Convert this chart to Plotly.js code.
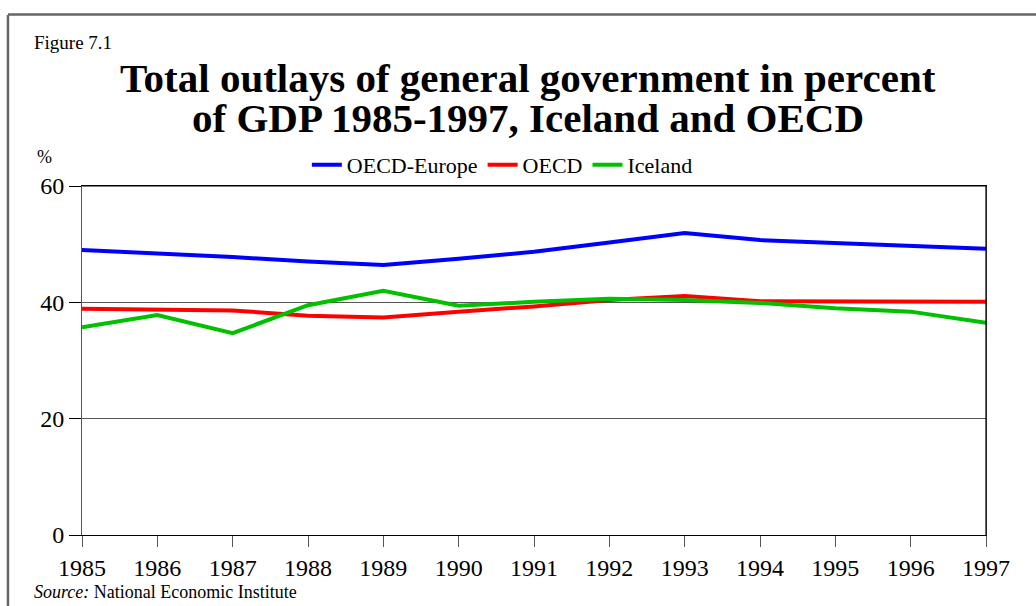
<!DOCTYPE html>
<html>
<head>
<meta charset="utf-8">
<script src="https://cdn.plot.ly/plotly-3.0.1.min.js"></script>
<style>
  html, body { margin: 0; padding: 0; background: #fff; }
  #chart { width: 1036px; height: 606px; }
</style>
</head>
<body>
<div id="chart"></div>
<script>
var years = [1985, 1986, 1987, 1988, 1989, 1990, 1991, 1992, 1993, 1994, 1995, 1996, 1997];
var oecdEurope = [49.0, 48.4, 47.8, 47.0, 46.4, 47.5, 48.7, 50.3, 51.9, 50.7, 50.2, 49.8, 49.2];
var oecd = [38.9, 38.8, 38.6, 37.7, 37.4, 38.4, 39.3, 40.4, 41.1, 40.2, 40.2, 40.2, 40.1];
var iceland = [35.7, 37.8, 34.7, 39.5, 42.0, 39.4, 40.1, 40.6, 40.4, 39.9, 39.0, 38.4, 36.5];

var serif = 'Liberation Serif';

var trace1 = {
  x: years, y: oecdEurope, mode: 'lines', name: 'OECD-Europe',
  line: { color: '#0000ff', width: 4 }
};
var trace2 = {
  x: years, y: oecd, mode: 'lines', name: 'OECD',
  line: { color: '#ff0000', width: 4 }
};
var trace3 = {
  x: years, y: iceland, mode: 'lines', name: 'Iceland',
  line: { color: '#00c000', width: 4 }
};

var layout = {
  width: 1036, height: 606,
  margin: { l: 82, r: 50, t: 186, b: 71 },
  paper_bgcolor: '#fff', plot_bgcolor: '#fff',
  font: { family: serif, color: '#000', size: 20 },
  showlegend: true,
  legend: {
    orientation: 'h', x: 0.465, xanchor: 'center', y: 1.06, yanchor: 'middle',
    font: { family: serif, size: 22, color: '#000' },
    itemwidth: 30, tracegroupgap: 0, bgcolor: 'rgba(0,0,0,0)'
  },
  xaxis: {
    range: [1985, 1997], tickvals: years, ticktext: years.map(String),
    showgrid: false, zeroline: false,
    showline: true, linecolor: '#000', linewidth: 1, mirror: true,
    ticks: 'outside', ticklen: 11, tickcolor: '#555', tickwidth: 1,
    tickfont: { family: serif, size: 24, color: '#000' }
  },
  yaxis: {
    range: [0, 60], tickvals: [0, 20, 40, 60],
    showgrid: true, gridcolor: '#555', gridwidth: 1, zeroline: false,
    showline: true, linecolor: '#555', linewidth: 1, mirror: true,
    ticks: 'outside', ticklen: 12, tickcolor: '#000', tickwidth: 1,
    tickfont: { family: serif, size: 24, color: '#000' }
  },
  shapes: [
    { type: 'line', xref: 'paper', yref: 'paper', x0: -0.0819, x1: -0.0819, y0: 1.49, y1: -0.3,
      line: { color: '#666', width: 2.5 } },
    { type: 'line', xref: 'paper', yref: 'paper', x0: -0.0819, x1: 1.1, y0: 1.4914, y1: 1.4914,
      line: { color: '#666', width: 2.5 } },
    { type: 'line', xref: 'paper', yref: 'paper', x0: 0, x1: 1, y0: 1, y1: 1,
      line: { color: '#000', width: 1.2 } },
    { type: 'line', xref: 'paper', yref: 'paper', x0: 1, x1: 1, y0: 0, y1: 1,
      line: { color: '#000', width: 1.2 } }
  ],
  annotations: [
    { text: '<b>Total outlays of general government in percent</b>', xref: 'paper', yref: 'paper',
      x: 0.4934, y: 1.3095, xanchor: 'center', yanchor: 'middle', showarrow: false,
      font: { family: serif, size: 41, color: '#000' } },
    { text: '<b>of GDP 1985-1997, Iceland and OECD</b>', xref: 'paper', yref: 'paper',
      x: 0.4934, y: 1.1948, xanchor: 'center', yanchor: 'middle', showarrow: false,
      font: { family: serif, size: 41, color: '#000' } },
    { text: 'Figure 7.1', xref: 'paper', yref: 'paper', x: -0.0553, y: 1.4126,
      xanchor: 'left', yanchor: 'middle', showarrow: false,
      font: { family: serif, size: 19, color: '#000' } },
    { text: '%', xref: 'paper', yref: 'paper', x: -0.042, y: 1.082,
      xanchor: 'center', yanchor: 'middle', showarrow: false,
      font: { family: serif, size: 18, color: '#000' } },
    { text: '<i>Source:</i> National Economic Institute', xref: 'paper', yref: 'paper',
      x: -0.0553, y: -0.163, xanchor: 'left', yanchor: 'middle', showarrow: false,
      font: { family: serif, size: 18, color: '#000' } }
  ]
};

Plotly.newPlot('chart', [trace1, trace2, trace3], layout, { displayModeBar: false, staticPlot: true });
</script>
</body>
</html>
